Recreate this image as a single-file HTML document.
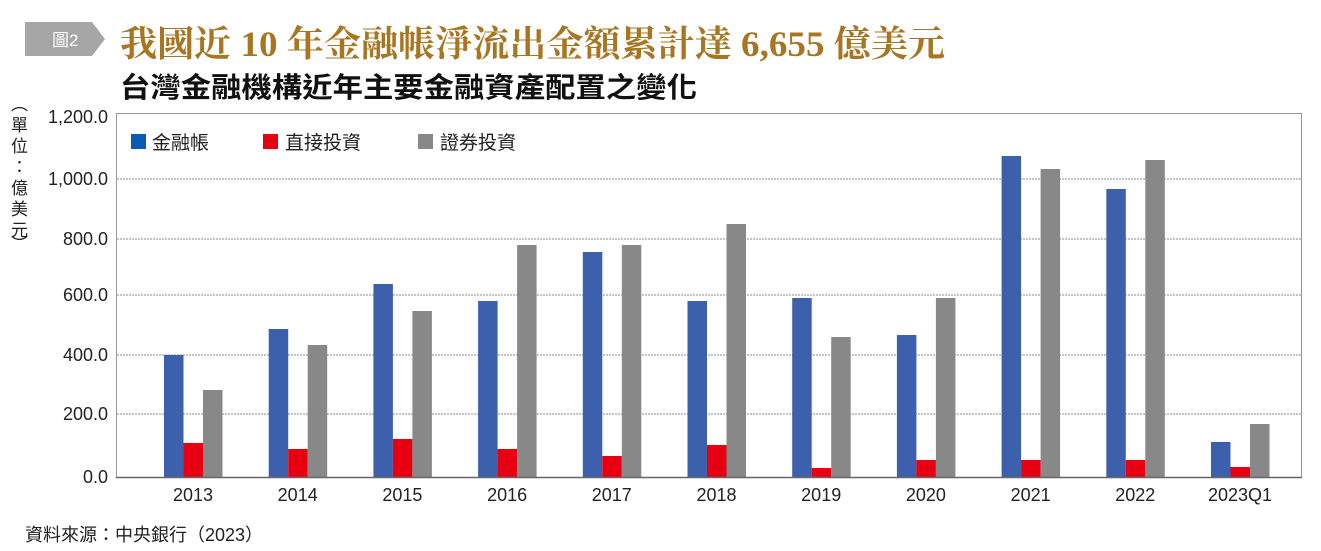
<!DOCTYPE html>
<html><head><meta charset="utf-8"><style>html,body{margin:0;padding:0;background:#fff}svg{display:block}</style></head>
<body>
<svg width="1321" height="551" xmlns="http://www.w3.org/2000/svg" font-family="'Liberation Sans','Noto Sans CJK TC',sans-serif">
<polygon points="25,22 92,22 105,39 92,56 25,56" fill="#a6a6a6"/>
<text x="52" y="46" font-size="17" fill="#fff">圖2</text>
<text x="120" y="56" font-size="36" fill="#a87521" font-weight="bold" font-family="'Liberation Serif','Noto Serif CJK SC',serif" textLength="825" lengthAdjust="spacingAndGlyphs">我國近 10 年金融帳淨流出金額累計達 6,655 億美元</text>
<text x="120" y="97" font-size="28" fill="#111" font-weight="bold" textLength="577" lengthAdjust="spacingAndGlyphs">台灣金融機構近年主要金融資產配置之變化</text>
<g font-size="17" fill="#222">
<text x="11" y="110">︵</text>
<text x="11" y="131">單</text>
<text x="11" y="152">位</text>
<text x="11" y="173">：</text>
<text x="11" y="194">億</text>
<text x="11" y="215">美</text>
<text x="11" y="236">元</text>
<text x="11" y="250">︶</text>
</g>
<g stroke="#888" stroke-width="1" stroke-dasharray="2,1">
<line x1="117" x2="1302" y1="179" y2="179"/>
<line x1="117" x2="1302" y1="239" y2="239"/>
<line x1="117" x2="1302" y1="295" y2="295"/>
<line x1="117" x2="1302" y1="355" y2="355"/>
<line x1="117" x2="1302" y1="414" y2="414"/>
</g>
<rect x="116.5" y="113.5" width="1185" height="364" fill="none" stroke="#999"/>
<g font-size="18" fill="#222" text-anchor="end">
<text x="108" y="123">1,200.0</text>
<text x="108" y="185">1,000.0</text>
<text x="108" y="245">800.0</text>
<text x="108" y="301">600.0</text>
<text x="108" y="361">400.0</text>
<text x="108" y="420">200.0</text>
<text x="108" y="483">0.0</text>
</g>
<g font-size="19" fill="#222">
<rect x="131" y="134" width="15" height="15" fill="#0b5bb5"/><text x="152" y="149">金融帳</text>
<rect x="263" y="134" width="15" height="15" fill="#e60012"/><text x="285" y="149">直接投資</text>
<rect x="418" y="134" width="15" height="15" fill="#888"/><text x="440" y="149">證券投資</text>
</g>
<g>
<rect x="164" y="355" width="19.5" height="122" fill="#3d60ad"/><rect x="183.5" y="443" width="19.5" height="34" fill="#e60012"/><rect x="203" y="390" width="19.5" height="87" fill="#888"/>
<rect x="268.7" y="329" width="19.5" height="148" fill="#3d60ad"/><rect x="288.2" y="449" width="19.5" height="28" fill="#e60012"/><rect x="307.7" y="345" width="19.5" height="132" fill="#888"/>
<rect x="373.4" y="284" width="19.5" height="193" fill="#3d60ad"/><rect x="392.9" y="439" width="19.5" height="38" fill="#e60012"/><rect x="412.4" y="311" width="19.5" height="166" fill="#888"/>
<rect x="478.1" y="301" width="19.5" height="176" fill="#3d60ad"/><rect x="497.6" y="449" width="19.5" height="28" fill="#e60012"/><rect x="517.1" y="245" width="19.5" height="232" fill="#888"/>
<rect x="582.8" y="252" width="19.5" height="225" fill="#3d60ad"/><rect x="602.3" y="456" width="19.5" height="21" fill="#e60012"/><rect x="621.8" y="245" width="19.5" height="232" fill="#888"/>
<rect x="687.5" y="301" width="19.5" height="176" fill="#3d60ad"/><rect x="707" y="445" width="19.5" height="32" fill="#e60012"/><rect x="726.5" y="224" width="19.5" height="253" fill="#888"/>
<rect x="792.2" y="298" width="19.5" height="179" fill="#3d60ad"/><rect x="811.7" y="468" width="19.5" height="9" fill="#e60012"/><rect x="831.2" y="337" width="19.5" height="140" fill="#888"/>
<rect x="896.9" y="335" width="19.5" height="142" fill="#3d60ad"/><rect x="916.4" y="460" width="19.5" height="17" fill="#e60012"/><rect x="935.9" y="298" width="19.5" height="179" fill="#888"/>
<rect x="1001.6" y="156" width="19.5" height="321" fill="#3d60ad"/><rect x="1021.1" y="460" width="19.5" height="17" fill="#e60012"/><rect x="1040.6" y="169" width="19.5" height="308" fill="#888"/>
<rect x="1106.3" y="189" width="19.5" height="288" fill="#3d60ad"/><rect x="1125.8" y="460" width="19.5" height="17" fill="#e60012"/><rect x="1145.3" y="160" width="19.5" height="317" fill="#888"/>
<rect x="1211" y="442" width="19.5" height="35" fill="#3d60ad"/><rect x="1230.5" y="467" width="19.5" height="10" fill="#e60012"/><rect x="1250" y="424" width="19.5" height="53" fill="#888"/>
</g>
<line x1="116" x2="1302" y1="477.5" y2="477.5" stroke="#666" stroke-width="1.5"/>
<g font-size="18" fill="#222" text-anchor="middle">
<text x="193" y="501">2013</text><text x="297.7" y="501">2014</text><text x="402.4" y="501">2015</text><text x="507.1" y="501">2016</text><text x="611.8" y="501">2017</text><text x="716.5" y="501">2018</text><text x="821.2" y="501">2019</text><text x="925.9" y="501">2020</text><text x="1030.6" y="501">2021</text><text x="1135.3" y="501">2022</text><text x="1240" y="501">2023Q1</text>
</g>
<text x="25" y="541" font-size="18" fill="#222">資料來源：中央銀行（2023）</text>
</svg>
</body></html>
